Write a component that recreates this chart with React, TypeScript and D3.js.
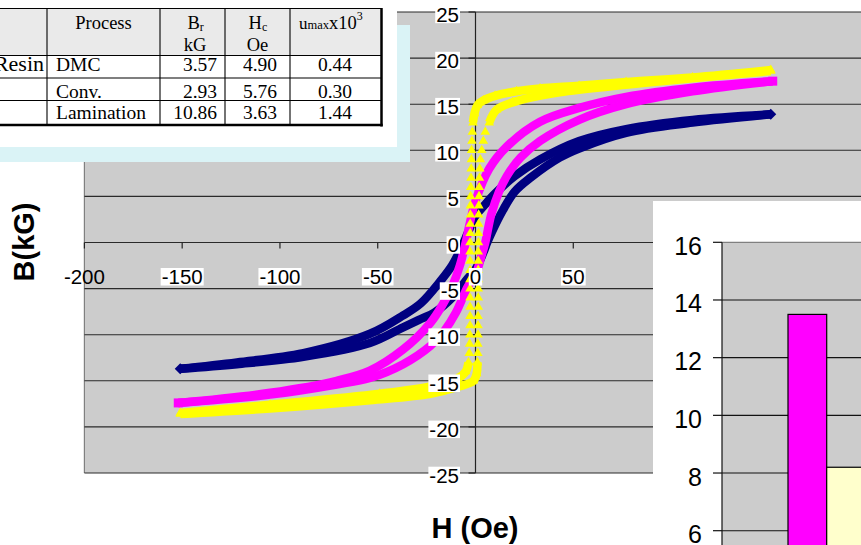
import React from "react";
import * as d3 from "d3";

const WIDTH = 861;
const HEIGHT = 545;

// ---- main chart axes ----
const hTicks = [-200, -150, -100, -50, 0, 50, 100, 150, 200];
const hTickLabels = [-200, -150, -100, -50, 0, 50];
const bTicks = [25, 20, 15, 10, 5, 0, -5, -10, -15, -20, -25];

// ---- hysteresis loops: [H (Oe), B (kG)] ----
const navyUpper: [number, number][] = [
  [151, 13.9], [111, 13.3], [77, 12.3], [53, 11.0], [33, 9.0], [20, 7.2], [10, 5.3], [4, 3.9],
  [0, 2.9], [-4, 1.0], [-6, 0], [-8, -0.9], [-12, -2.5], [-18, -4.2], [-28, -6.6], [-37, -7.9],
  [-54, -9.9], [-88, -12.0], [-122, -13.0], [-151, -13.7],
];
const navyLower: [number, number][] = [
  [-151, -13.7], [-122, -13.2], [-88, -12.4], [-54, -10.9], [-37, -9.2], [-28, -8.3], [-21, -7.6],
  [-12, -6.0], [-4, -3.9], [0, -2.9], [4, -1.1], [6, 0], [8.5, 1.2], [14, 3.5], [20, 5.5], [28, 7.0],
  [43, 9.2], [53, 10.2], [77, 11.9], [111, 13.0], [151, 13.9],
];
const magentaUpper: [number, number][] = [
  [152, 17.5], [111, 16.8], [77, 15.8], [53, 14.6], [33, 13.1], [16, 10.4], [7, 8.0], [0, 4.5],
  [-3, 2.0], [-5, 0], [-8, -2.5], [-12, -4.8], [-17, -6.8], [-23, -8.7], [-37, -11.6], [-54, -13.9],
  [-71, -15.0], [-105, -16.3], [-152, -17.4],
];
const magentaLower: [number, number][] = [
  [-152, -17.4], [-105, -16.5], [-71, -15.4], [-54, -14.7], [-37, -13.2], [-23, -11.2], [-16, -9.6],
  [-10, -7.6], [-4, -4.8], [0, -3.5], [3, -1.5], [5, 0], [8, 3.0], [12, 5.5], [16, 7.2], [23, 9.2],
  [33, 11.0], [53, 13.3], [77, 15.0], [111, 16.4], [152, 17.5],
];
const yellowUpper: [number, number][] = [
  [151, 18.7], [111, 17.9], [77, 17.4], [53, 17.0], [33, 16.7], [21, 16.4], [10, 15.9], [4, 15.4],
  [1, 14.9], [-0.5, 14.0], [-1.3, 13.0],
  [-1.6, 12], [-1.8, 11], [-2.0, 10], [-2.1, 9], [-2.2, 8], [-2.3, 7], [-2.4, 6], [-2.5, 5],
  [-2.6, 4], [-2.6, 3], [-2.7, 2], [-2.7, 1], [-2.8, 0], [-2.8, -1], [-2.8, -2], [-2.8, -3],
  [-2.8, -4], [-2.8, -5], [-2.8, -6], [-2.8, -7], [-2.8, -8], [-2.8, -9], [-2.9, -10], [-3.0, -11],
  [-3.2, -12],
  [-3.6, -13], [-5, -14], [-9.6, -14.8], [-23, -15.6], [-49, -16.4], [-105, -17.6], [-151, -18.5],
];
const yellowLower: [number, number][] = [
  [-151, -18.6], [-105, -18.0], [-54, -17.1], [-23, -16.4], [-8, -15.6], [-1, -15.0], [0.6, -14.2],
  [1.0, -13],
  [1.2, -12], [1.2, -11], [1.3, -10], [1.3, -9], [1.3, -8], [1.4, -7], [1.4, -6], [1.4, -5],
  [1.4, -4], [1.4, -3], [1.4, -2], [1.4, -1], [1.5, 0], [1.5, 1], [1.6, 2], [1.6, 3], [1.7, 4],
  [1.8, 5], [1.9, 6], [2.0, 7], [2.2, 8], [2.5, 9], [3.2, 10], [4.0, 11], [5.0, 12],
  [7.0, 13], [10.8, 14.4], [19, 15.2], [43, 16.3], [77, 17.1], [111, 17.8], [151, 18.6],
];

// ---- table ----
const tableResin = ["Resin", "", ""];
const tableProcess = ["DMC", "Conv.", "Lamination"];
const tableBr = ["3.57", "2.93", "10.86"];
const tableHc = ["4.90", "5.76", "3.63"];
const tableMu = ["0.44", "0.30", "1.44"];

// ---- inset bar chart ----
const barTicks = [6, 8, 10, 12, 14, 16];
const barSeries = ["s1", "s2", "s3"];
const barValues = [13.5, 8.2];
const barColors = ["#FF00FF", "#FFFFCC"];

const SANS = "'Liberation Sans', Arial, Helvetica, sans-serif";
const SERIF = "'Liberation Serif', 'Times New Roman', serif";

function textWidth(s: string, size: number) {
  let w = 0;
  for (const c of s) w += c === "-" ? 0.333 : c === "." ? 0.278 : 0.556;
  return w * size;
}

export default function App() {
  const x = d3.scaleLinear().domain([-200, 200]).range([84.4, 866.6]);
  const y = d3.scaleLinear().domain([-25, 25]).range([473, 12]);

  const line = d3
    .line<[number, number]>()
    .x((d) => x(d[0]))
    .y((d) => y(d[1]))
    .curve(d3.curveCatmullRom.alpha(0.5));
  const yellowLine = d3
    .line<[number, number]>()
    .defined((d) => Math.abs(d[1]) > 12.5)
    .x((d) => x(d[0]))
    .y((d) => y(d[1]))
    .curve(d3.curveCatmullRom.alpha(0.5));

  const tri = d3.symbol(d3.symbolTriangle, 40)();
  const SW = 8.5;
  const fontSize = 20.5;

  // inset scales
  const yb = d3.scaleLinear().domain([6, 16]).range([530.7, 242.3]);
  const xb = d3.scaleBand().domain(barSeries).range([788, 904.1]).padding(0);

  const diamond = (cx: number, cy: number, r: number) =>
    `M${cx - r},${cy}L${cx},${cy - r}L${cx + r},${cy}L${cx},${cy + r}Z`;

  const plotLeft = x(-200);
  const plotTop = y(25);

  return (
    <svg
      width={WIDTH}
      height={HEIGHT}
      style={{ position: "absolute", left: 0, top: 0, display: "block", background: "#fff" }}
    >
      {/* plot area */}
      <rect x={plotLeft} y={plotTop} width={WIDTH - plotLeft} height={y(-25) - plotTop} fill="#CCCCCC" />
      <line x1={plotLeft} x2={plotLeft} y1={plotTop} y2={y(-25)} stroke="#808080" strokeWidth={1.2} />
      {bTicks.map((t) => (
        <line key={"g" + t} x1={plotLeft} x2={WIDTH} y1={y(t)} y2={y(t)} stroke="#2a2a2a" strokeWidth={1.1} />
      ))}
      {/* y axis at H=0 */}
      <line x1={x(0)} x2={x(0)} y1={plotTop} y2={y(-25)} stroke="#222" strokeWidth={1.2} />
      {bTicks.map((t) => (
        <line key={"yt" + t} x1={x(0) - 7} x2={x(0)} y1={y(t)} y2={y(t)} stroke="#222" strokeWidth={1.2} />
      ))}
      {hTicks.map((t) => (
        <line key={"xt" + t} x1={x(t)} x2={x(t)} y1={y(0)} y2={y(0) + 6} stroke="#222" strokeWidth={1.2} />
      ))}

      {/* series: navy */}
      <g fill="none" strokeLinejoin="round">
        <path d={line(navyUpper) || ""} stroke="#000080" strokeWidth={SW} />
        <path d={line(navyLower) || ""} stroke="#000080" strokeWidth={SW} />
      </g>
      <path d={diamond(x(navyUpper[0][0]), y(navyUpper[0][1]), 5.5)} fill="#000080" />
      <path d={diamond(x(navyLower[0][0]), y(navyLower[0][1]), 5.5)} fill="#000080" />
      {/* magenta */}
      <g fill="none" strokeLinejoin="round">
        <path d={line(magentaUpper) || ""} stroke="#FF00FF" strokeWidth={SW} />
        <path d={line(magentaLower) || ""} stroke="#FF00FF" strokeWidth={SW} />
      </g>
      {[magentaUpper[0], magentaLower[0]].map((d, i) => (
        <rect key={"ms" + i} x={x(d[0]) - 4.5} y={y(d[1]) - 4.5} width={9} height={9} fill="#FF00FF" />
      ))}
      {/* yellow */}
      <g fill="none" strokeLinejoin="round">
        <path d={yellowLine(yellowUpper) || ""} stroke="#FFFF00" strokeWidth={SW} />
        <path d={yellowLine(yellowLower) || ""} stroke="#FFFF00" strokeWidth={SW} />
      </g>
      {[...yellowUpper, ...yellowLower].map((d, i) => (
        <path key={"yt" + i} d={tri || ""} transform={`translate(${x(d[0])},${y(d[1])})`} fill="#FFFF00" />
      ))}

      {/* tick labels */}
      <g fontFamily={SANS} fontSize={fontSize} fill="#000">
        {bTicks.map((t) => {
          const s = String(t);
          const w = textWidth(s, fontSize);
          const bx = 459;
          const by = y(t) + 9.7;
          return (
            <g key={"yl" + t}>
              <rect x={bx - w - 1} y={by - 16} width={w + 2} height={17.5} fill="#fff" />
              <text x={bx} y={by} textAnchor="end">
                {s}
              </text>
            </g>
          );
        })}
        {hTickLabels.map((t) => {
          const s = String(t);
          const w = textWidth(s, fontSize);
          const cx = x(t);
          const by = 284;
          return (
            <g key={"xl" + t}>
              {t !== -200 && <rect x={cx - w / 2 - 1} y={by - 16} width={w + 2} height={17.5} fill="#fff" />}
              <text x={cx} y={by} textAnchor="middle">
                {s}
              </text>
            </g>
          );
        })}
      </g>

      {/* axis titles */}
      <text
        x={0}
        y={0}
        transform="translate(33.5,242) rotate(-90)"
        textAnchor="middle"
        fontFamily={SANS}
        fontWeight="bold"
        fontSize={29}
      >
        B(kG)
      </text>
      <text x={475} y={537.5} textAnchor="middle" fontFamily={SANS} fontWeight="bold" fontSize={29}>
        H (Oe)
      </text>

      {/* table overlay */}
      <rect x={0} y={25} width={410} height={137} fill="#DAF3F6" />
      <rect x={0} y={0} width={397} height={147} fill="#fff" />
      <rect x={0} y={8.5} width={381} height={46.5} fill="#EAEAEA" />
      <g stroke="#000" strokeWidth={1.1}>
        <line x1={0} x2={382} y1={8.5} y2={8.5} />
        <line x1={0} x2={382} y1={55.5} y2={55.5} />
        <line x1={0} x2={382} y1={78} y2={78} />
        <line x1={0} x2={382} y1={100.5} y2={100.5} />
        {[47, 160, 225, 290].map((cx) => (
          <line key={"c" + cx} x1={cx} x2={cx} y1={8.5} y2={125} />
        ))}
      </g>
      <line x1={381.5} x2={381.5} y1={8} y2={126.5} stroke="#000" strokeWidth={2.5} />
      <line x1={0} x2={382.7} y1={125} y2={125} stroke="#000" strokeWidth={2.5} />
      <g fontFamily={SERIF} fontSize={18.5} fill="#000">
        <text x={103.5} y={29} textAnchor="middle">Process</text>
        <text x={187.5} y={29}>
          B<tspan fontSize={12} dy={2}>r</tspan>
        </text>
        <text x={195} y={51} textAnchor="middle">kG</text>
        <text x={248.5} y={29}>
          H<tspan fontSize={12} dy={2}>c</tspan>
        </text>
        <text x={257.5} y={51} textAnchor="middle">Oe</text>
        <text x={299} y={29}>
          <tspan fontSize={17}>u</tspan>
          <tspan fontSize={12.5}>max</tspan>
          <tspan fontSize={18.5}>x10</tspan>
          <tspan fontSize={12} dy={-9}>3</tspan>
        </text>
      </g>
      <g fontFamily={SERIF} fontSize={19.5} fill="#000">
        {tableProcess.map((p, i) => {
          const by = [71, 98, 119][i];
          return (
            <g key={"row" + i}>
              {tableResin[i] && (
                <text x={44} y={by} textAnchor="end" fontSize={22}>
                  {tableResin[i]}
                </text>
              )}
              <text x={56} y={by}>{p}</text>
              <text x={217} y={by} textAnchor="end">{tableBr[i]}</text>
              <text x={277} y={by} textAnchor="end">{tableHc[i]}</text>
              <text x={352} y={by} textAnchor="end">{tableMu[i]}</text>
            </g>
          );
        })}
      </g>

      {/* inset bar chart */}
      <rect x={653} y={201} width={WIDTH - 653} height={HEIGHT - 201} fill="#fff" />
      <rect x={722} y={yb(16)} width={WIDTH - 722} height={HEIGHT - yb(16)} fill="#CCCCCC" />
      <line x1={722} x2={WIDTH} y1={yb(16)} y2={yb(16)} stroke="#808080" strokeWidth={1.2} />
      {barTicks
        .filter((t) => t < 16)
        .map((t) => (
          <line key={"bg" + t} x1={722} x2={WIDTH} y1={yb(t)} y2={yb(t)} stroke="#111" strokeWidth={1.1} />
        ))}
      {barValues.map((v, i) => (
        <rect
          key={"bar" + i}
          x={xb(barSeries[i])!}
          y={yb(v)}
          width={xb.bandwidth()}
          height={HEIGHT + 10 - yb(v)}
          fill={barColors[i]}
          stroke="#000"
          strokeWidth={1.2}
        />
      ))}
      <line x1={722} x2={722} y1={yb(16)} y2={HEIGHT} stroke="#111" strokeWidth={1.2} />
      {barTicks.map((t) => (
        <line key={"btk" + t} x1={713} x2={722} y1={yb(t)} y2={yb(t)} stroke="#111" strokeWidth={1.2} />
      ))}
      <g fontFamily={SANS} fontSize={25} fill="#000">
        {barTicks.map((t) => (
          <text key={"bl" + t} x={702} y={yb(t) + 12.5} textAnchor="end">
            {t}
          </text>
        ))}
      </g>
    </svg>
  );
}
